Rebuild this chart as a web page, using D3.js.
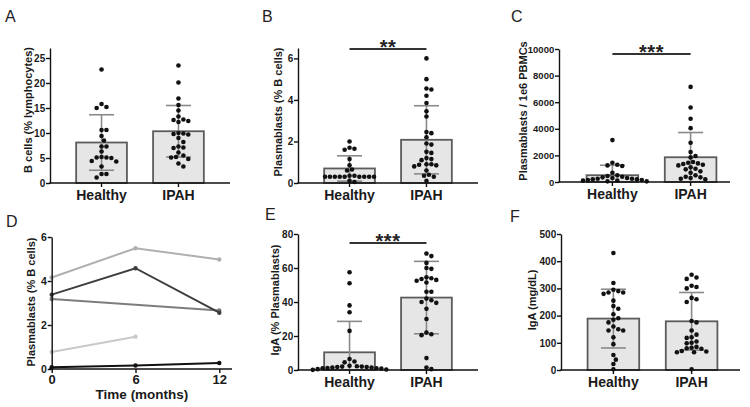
<!DOCTYPE html>
<html><head><meta charset="utf-8">
<script src="https://cdn.jsdelivr.net/npm/d3@7"></script>
<style>body{margin:0;background:#fff} svg{display:block}</style>
</head><body><svg id="c" width="750" height="407"></svg>
<script>
const categories = ["Healthy", "IPAH"];

// Panel A: B cells (% lymphocytes)
const aHealthy = [22.7, 15.8, 15.2, 15.0, 10.6, 10.6, 9.4, 8.5, 7.3, 7.3, 6.3, 5.2, 5.1, 5.1, 5.0, 4.4, 4.3, 3.3, 1.8, 1.8, 1.1];
const aIPAH = [23.5, 20.1, 16.9, 15.6, 14.5, 13.3, 12.7, 12.6, 12.4, 12.2, 10.0, 9.9, 9.8, 9.7, 9.0, 8.2, 7.3, 7.1, 7.0, 6.1, 5.5, 5.2, 5.1, 4.8, 3.9, 3.3];
const aMean = [8.1, 10.35];
const aSD = [5.55, 5.15];
const aTicks = [0, 5, 10, 15, 20, 25];

// Panel B: Plasmablasts (% B cells)
const bHealthy = [2.0, 1.7, 1.65, 1.6, 1.15, 0.85, 0.65, 0.6, 0.35, 0.35, 0.3, 0.3, 0.3, 0.3, 0.3, 0.3, 0.3, 0.3, 0.3, 0.1, 0.05];
const bIPAH = [6.0, 5.0, 4.55, 4.5, 4.2, 3.85, 3.45, 3.2, 2.45, 2.4, 2.2, 1.9, 1.85, 1.5, 1.45, 1.2, 1.15, 1.1, 0.9, 0.9, 0.88, 0.85, 0.8, 0.6, 0.4, 0.35, 0.3, 0.1];
const bMean = [0.7, 2.08];
const bSD = [0.61, 1.64];
const bTicks = [0, 2, 4, 6];

// Panel C: Plasmablasts / 1e6 PBMCs
const cHealthy = [3150, 1450, 1300, 1250, 1200, 700, 500, 450, 400, 350, 300, 300, 250, 250, 200, 200, 150, 150, 100, 100, 50, 50];
const cIPAH = [7150, 5600, 4750, 4050, 2950, 2250, 1950, 1850, 1500, 1450, 1400, 1350, 1300, 1250, 1100, 1000, 950, 800, 700, 500, 400, 350, 300, 250, 200];
const cMean = [510, 1860];
const cSD = [750, 1860];
const cTicks = [0, 2000, 4000, 6000, 8000, 10000];

// Panel D: longitudinal plasmablasts
const dTime = [0, 6, 12];
const dSeries1 = [4.16, 5.49, 4.98];
const dSeries2 = [3.38, 4.58, 2.56];
const dSeries3 = [3.18, null, 2.66];
const dSeries4 = [0.77, 1.47, null];
const dSeries5 = [0.08, 0.16, 0.27];
const dTicksY = [0, 2, 4, 6];
const dTicksX = [0, 6, 12];

// Panel E: IgA (% Plasmablasts)
const eHealthy = [57.5, 51, 38, 34, 23, 6.5, 5.0, 4.5, 2.5, 2.2, 2.0, 2.0, 1.8, 1.8, 1.5, 1.5, 1.2, 1.0, 1.0, 0.8, 0.5, 0.3, 0.1];
const eIPAH = [68.5, 67, 63, 60, 59.5, 54.5, 54, 53.5, 53, 52.5, 51.5, 46, 46, 42, 41, 40, 39.5, 36, 30, 22, 21, 20.5, 7, 1.5, 0.5];
const eMean = [10.4, 42.6];
const eSD = [18.2, 21.3];
const eTicks = [0, 20, 40, 60, 80];

// Panel F: IgA (mg/dL)
const fHealthy = [430, 320, 295, 290, 285, 285, 280, 255, 235, 225, 205, 190, 185, 175, 160, 150, 145, 145, 120, 95, 55, 38, 22, 3];
const fIPAH = [350, 340, 335, 310, 305, 300, 265, 260, 250, 180, 175, 145, 130, 120, 118, 105, 100, 98, 85, 82, 80, 78, 70, 68, 65, 65, 3];
const fMean = [189, 179];
const fSD = [108, 106];
const fTicks = [0, 100, 200, 300, 400, 500];

const FONT = '"Liberation Sans", Arial, Helvetica, sans-serif';
const svg = d3.select("#c");

function styleAxis(sel, fs) {
  sel.select(".domain").attr("stroke", "#111").attr("stroke-width", 1.4);
  sel.selectAll(".tick line").attr("stroke", "#111").attr("stroke-width", 1.4);
  sel.selectAll(".tick text").attr("font-family", FONT).attr("font-weight", "bold")
     .attr("font-size", fs).attr("fill", "#1a1a1a");
}

function swarm(values, y, cx, d) {
  const pts = values.map(v => ({ v, py: y(v) })).sort((a, b) => a.py - b.py);
  const placed = [];
  pts.forEach(p => {
    const cands = [0];
    for (let j = 1; j < 30; j++) { cands.push(j * d * 0.5, -j * d * 0.5); }
    for (const off of cands) {
      const px = cx + off;
      const ok = placed.every(q => Math.hypot(q.px - px, q.py - p.py) >= d * 0.98);
      if (ok) { p.px = px; break; }
    }
    placed.push(p);
  });
  return placed;
}

function letter(t, x, y) {
  svg.append("text").attr("x", x).attr("y", y).text(t)
    .attr("font-family", FONT).attr("font-size", 16).attr("fill", "#222");
}

function yTitle(t, x, y, fs) {
  svg.append("text").attr("transform", `translate(${x},${y}) rotate(-90)`)
    .attr("text-anchor", "middle").text(t)
    .attr("font-family", FONT).attr("font-weight", "bold").attr("font-size", fs).attr("fill", "#1a1a1a");
}

function barPanel(o) {
  const g = svg.append("g");
  const y = d3.scaleLinear().domain([0, o.yMax]).range([o.yBase, o.yTop]);
  const x = d3.scaleBand().domain(categories).range(o.band).padding(0.34);
  const bw = x.bandwidth();
  const centers = categories.map(c => x(c) + bw / 2);
  g.selectAll("rect.bar").data(categories).join("rect")
    .attr("x", c => x(c)).attr("y", (c, i) => y(o.mean[i]))
    .attr("width", bw).attr("height", (c, i) => y(0) - y(o.mean[i]))
    .attr("fill", "#e6e6e6").attr("stroke", "#5c5c5c").attr("stroke-width", 1.8);
  categories.forEach((c, i) => {
    const cx = centers[i];
    const hi = o.mean[i] + o.sd[i];
    const lo = Math.max(0, o.mean[i] - o.sd[i]);
    const eg = g.append("g").attr("stroke", "#8a8a8a").attr("stroke-width", 1.6);
    eg.append("line").attr("x1", cx).attr("x2", cx).attr("y1", y(lo)).attr("y2", y(hi));
    eg.append("line").attr("x1", cx - 12.5).attr("x2", cx + 12.5).attr("y1", y(hi)).attr("y2", y(hi));
    if (o.mean[i] - o.sd[i] > 0) {
      eg.append("line").attr("x1", cx - 12.5).attr("x2", cx + 12.5).attr("y1", y(lo)).attr("y2", y(lo));
    }
  });
  o.data.forEach((vals, i) => {
    const pts = swarm(vals, y, centers[i], 4.9);
    g.append("g").selectAll("circle").data(pts).join("circle")
      .attr("cx", p => p.px).attr("cy", p => p.py).attr("r", 2.3).attr("fill", "#111");
  });
  const ya = g.append("g").attr("transform", `translate(${o.x0},0)`)
    .call(d3.axisLeft(y).tickValues(o.ticks).tickSize(4).tickSizeOuter(0).tickPadding(0.8)
      .tickFormat(d3.format("d")));
  styleAxis(ya, o.tickFs || 10);
  const xa = g.append("g").attr("transform", `translate(0,${o.yBase})`)
    .call(d3.axisBottom(x).tickSize(4).tickSizeOuter(0).tickPadding(3));
  xa.select(".domain").remove();
  styleAxis(xa, 14);
  g.append("line").attr("x1", o.x0 - 0.7).attr("x2", o.xEnd).attr("y1", o.yBase).attr("y2", o.yBase)
    .attr("stroke", "#111").attr("stroke-width", 1.4);
  if (o.sig) {
    g.append("line").attr("x1", centers[0]).attr("x2", centers[1]).attr("y1", o.sig.y).attr("y2", o.sig.y)
      .attr("stroke", "#333").attr("stroke-width", 2);
    g.append("text").attr("x", (centers[0] + centers[1]) / 2).attr("y", o.sig.y + 4.5)
      .attr("text-anchor", "middle").text(o.sig.text)
      .attr("font-family", FONT).attr("font-weight", "bold").attr("font-size", 20)
      .attr("letter-spacing", 0.5).attr("fill", "#222");
  }
}

barPanel({ data: [aHealthy, aIPAH], mean: aMean, sd: aSD, ticks: aTicks, yMax: 27,
  yBase: 183, yTop: 48, x0: 50, xEnd: 230, band: [50, 230] });
barPanel({ data: [bHealthy, bIPAH], mean: bMean, sd: bSD, ticks: bTicks, yMax: 6.5,
  yBase: 183, yTop: 48, x0: 298, xEnd: 478, band: [298, 478], sig: { y: 49, text: "**" } });
barPanel({ data: [cHealthy, cIPAH], mean: cMean, sd: cSD, ticks: cTicks, yMax: 10000,
  yBase: 182, yTop: 49, x0: 559, xEnd: 730, band: [560, 743], sig: { y: 54, text: "***" }, tickFs: 9.5 });
barPanel({ data: [eHealthy, eIPAH], mean: eMean, sd: eSD, ticks: eTicks, yMax: 80,
  yBase: 370, yTop: 234, x0: 298, xEnd: 478, band: [298, 478], sig: { y: 243, text: "***" } });
barPanel({ data: [fHealthy, fIPAH], mean: fMean, sd: fSD, ticks: fTicks, yMax: 500,
  yBase: 370, yTop: 234, x0: 561, xEnd: 740, band: [561, 744] });

// Panel D
(function () {
  const g = svg.append("g");
  const x = d3.scaleLinear().domain([0, 12]).range([51.7, 219.3]);
  const y = d3.scaleLinear().domain([0, 6]).range([369, 237]);
  const series = [
    { v: dSeries4, color: "#c9c9c9" },
    { v: dSeries1, color: "#b0b0b0" },
    { v: dSeries3, color: "#7d7d7d" },
    { v: dSeries2, color: "#3d3d3d" },
    { v: dSeries5, color: "#111111" }
  ];
  const line = d3.line().x(d => x(d.t)).y(d => y(d.v));
  series.forEach(s => {
    const pts = dTime.map((t, i) => ({ t, v: s.v[i] })).filter(d => d.v !== null);
    g.append("path").attr("d", line(pts)).attr("fill", "none").attr("stroke", s.color).attr("stroke-width", 2);
    g.append("g").selectAll("circle").data(pts).join("circle")
      .attr("cx", d => x(d.t)).attr("cy", d => y(d.v)).attr("r", 2.2).attr("fill", s.color);
  });
  const ya = g.append("g").attr("transform", "translate(51.7,0)")
    .call(d3.axisLeft(y).tickValues(dTicksY).tickSize(4).tickSizeOuter(0).tickPadding(0.8)
      .tickFormat(d3.format("d")));
  styleAxis(ya, 10.5);
  const xa = g.append("g").attr("transform", "translate(0,369)")
    .call(d3.axisBottom(x).tickValues(dTicksX).tickSize(4).tickSizeOuter(0).tickPadding(2)
      .tickFormat(d3.format("d")));
  xa.select(".domain").remove();
  styleAxis(xa, 13);
  g.append("line").attr("x1", 49).attr("x2", 232).attr("y1", 369).attr("y2", 369)
    .attr("stroke", "#111").attr("stroke-width", 1.4);
  g.append("text").attr("x", 142).attr("y", 399).attr("text-anchor", "middle").text("Time (months)")
    .attr("font-family", FONT).attr("font-weight", "bold").attr("font-size", 13.5).attr("fill", "#1a1a1a");
})();

// axis titles
yTitle("B cells (% lymphocytes)", 32, 110, 11);
yTitle("Plasmablasts (% B cells)", 282, 112, 11);
yTitle("Plasmablasts / 1e6 PBMCs", 527, 111, 11);
yTitle("Plasmablasts (% B cells)", 35, 302, 11);
yTitle("IgA (% Plasmablasts)", 279, 300, 11);
yTitle("IgA (mg/dL)", 536, 300, 11);

// panel letters
letter("A", 5, 22);
letter("B", 262, 22);
letter("C", 511, 22);
letter("D", 6, 227);
letter("E", 265, 220);
letter("F", 510, 222);
</script>
</body></html>
